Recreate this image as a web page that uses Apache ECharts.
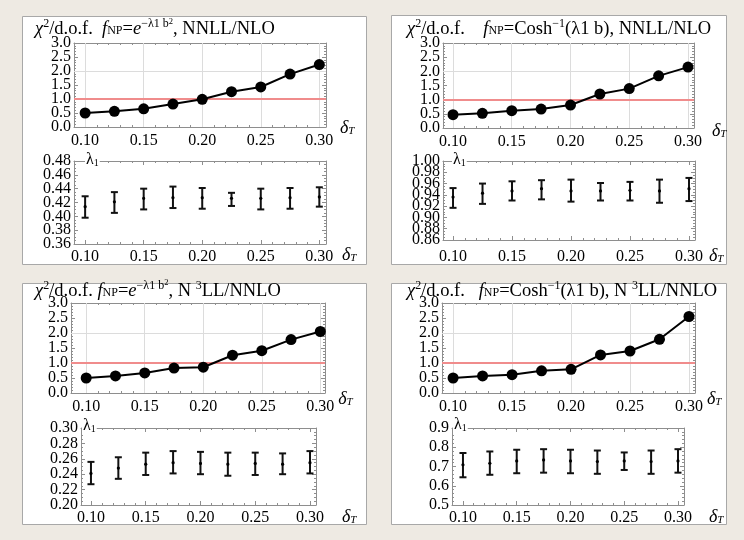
<!DOCTYPE html>
<html>
<head>
<meta charset="utf-8">
<script src="https://cdn.jsdelivr.net/npm/echarts@6/dist/echarts.min.js"></script>
<style>
  html, body { margin: 0; padding: 0; background: #eeeae3; }
  #chart { width: 744px; height: 540px; }
</style>
</head>
<body>
<div id="chart"></div>
<script>
// ---- data -------------------------------------------------------------
const deltaT = [0.10, 0.125, 0.15, 0.175, 0.20, 0.225, 0.25, 0.275, 0.30];

// chi^2 per degree of freedom
const chiNnllGauss = [0.50, 0.56, 0.65, 0.82, 0.99, 1.26, 1.43, 1.89, 2.23];
const chiNnllCosh  = [0.47, 0.52, 0.61, 0.67, 0.81, 1.20, 1.39, 1.84, 2.15];
const chiN3llGauss = [0.50, 0.57, 0.67, 0.83, 0.86, 1.26, 1.41, 1.78, 2.05];
const chiN3llCosh  = [0.50, 0.57, 0.61, 0.74, 0.79, 1.27, 1.40, 1.79, 2.55];

// fitted lambda_1: lower edge, central value, upper edge
const lamLoNnllGauss  = [0.398, 0.405, 0.410, 0.412, 0.411, 0.415, 0.410, 0.411, 0.414];
const lamMidNnllGauss = [0.414, 0.421, 0.426, 0.427, 0.427, 0.426, 0.426, 0.427, 0.428];
const lamHiNnllGauss  = [0.429, 0.435, 0.440, 0.443, 0.441, 0.434, 0.440, 0.441, 0.442];

const lamLoNnllCosh  = [0.917, 0.924, 0.930, 0.932, 0.928, 0.930, 0.930, 0.926, 0.929];
const lamMidNnllCosh = [0.936, 0.943, 0.947, 0.951, 0.947, 0.947, 0.948, 0.947, 0.951];
const lamHiNnllCosh  = [0.952, 0.960, 0.964, 0.966, 0.967, 0.961, 0.963, 0.967, 0.970];

const lamLoN3llGauss  = [0.227, 0.234, 0.239, 0.241, 0.240, 0.238, 0.239, 0.240, 0.241];
const lamMidN3llGauss = [0.241, 0.248, 0.253, 0.255, 0.254, 0.253, 0.254, 0.253, 0.255];
const lamHiN3llGauss  = [0.256, 0.262, 0.268, 0.270, 0.269, 0.268, 0.268, 0.267, 0.270];

const lamLoN3llCosh  = [0.644, 0.657, 0.665, 0.668, 0.665, 0.662, 0.682, 0.662, 0.668];
const lamMidN3llCosh = [0.709, 0.717, 0.729, 0.734, 0.729, 0.726, 0.729, 0.726, 0.729];
const lamHiN3llCosh  = [0.770, 0.778, 0.787, 0.790, 0.787, 0.783, 0.773, 0.783, 0.790];

// ---- tick labels ------------------------------------------------------
const xTickValues = [0.10, 0.15, 0.20, 0.25, 0.30];
const chiTickValues = [0, 0.5, 1.0, 1.5, 2.0, 2.5, 3.0];
const chiGridValues = [2.0];
const chiReference = 1.0;
const lamTicksNnllGauss = [0.36, 0.38, 0.40, 0.42, 0.44, 0.46, 0.48];
const lamTicksNnllCosh  = [0.86, 0.88, 0.90, 0.92, 0.94, 0.96, 0.98, 1.00];
const lamTicksN3llGauss = [0.20, 0.22, 0.24, 0.26, 0.28, 0.30];
const lamTicksN3llCosh  = [0.5, 0.6, 0.7, 0.8, 0.9];

// ---- titles -----------------------------------------------------------
const titleNnllGauss = '{i|χ}{sup|2}{n|/d.o.f.  }{i|f}{sub|NP}{n|=}{i|e}{sup|−λ1 b}{ssup|2}{n|, NNLL/NLO}';
const titleNnllCosh  = '{i|χ}{sup|2}{n|/d.o.f.    }{i|f}{sub|NP}{n|=Cosh}{sup|−1}{n|(λ1 b), NNLL/NLO}';
const titleN3llGauss = '{i|χ}{sup|2}{n|/d.o.f. }{i|f}{sub|NP}{n|=}{i|e}{sup|−λ1 b}{ssup|2}{n|, N }{sup|3}{n|LL/NNLO}';
const titleN3llCosh  = '{i|χ}{sup|2}{n|/d.o.f.   }{i|f}{sub|NP}{n|=Cosh}{sup|−1}{n|(λ1 b), N }{sup|3}{n|LL/NNLO}';

// ---- layout -----------------------------------------------------------
const FONT = '"Liberation Serif", "Times New Roman", serif';
const FRAME = '#8e8e8e';
const INK = '#000';

const panels = [
  {
    title: titleNnllGauss, titlePos: [35, 28], box: [22.5, 16.5, 344, 248],
    chi: chiNnllGauss, lam: [lamLoNnllGauss, lamMidNnllGauss, lamHiNnllGauss],
    lamTicks: lamTicksNnllGauss, lamDigits: 2, lamMinor: 0.005, lambdaPos: [85, 161],
    up:  { left: 74, top: 43, width: 252, height: 84, xMin: 0.0905, xMax: 0.3057, nameGap: 14, nameDy: 0, margin: 6 },
    low: { left: 74, top: 161, width: 252, height: 83, xMin: 0.0905, xMax: 0.3057, nameGap: 16, nameDy: 10, margin: 5 }
  },
  {
    title: titleNnllCosh, titlePos: [407, 28], box: [391.5, 15.5, 335, 249],
    chi: chiNnllCosh, lam: [lamLoNnllCosh, lamMidNnllCosh, lamHiNnllCosh],
    lamTicks: lamTicksNnllCosh, lamDigits: 2, lamMinor: 0.005, lambdaPos: [452, 161],
    up:  { left: 443, top: 43, width: 251, height: 85, xMin: 0.0915, xMax: 0.3051, nameGap: 18, nameDy: 2, margin: 6 },
    low: { left: 443, top: 161, width: 252, height: 79, xMin: 0.0915, xMax: 0.3051, nameGap: 14, nameDy: 15, margin: 9 }
  },
  {
    title: titleN3llGauss, titlePos: [35, 289.5], box: [22.5, 283.5, 344, 241],
    chi: chiN3llGauss, lam: [lamLoN3llGauss, lamMidN3llGauss, lamHiN3llGauss],
    lamTicks: lamTicksN3llGauss, lamDigits: 2, lamMinor: 0.005, lambdaPos: [82, 427],
    up:  { left: 71, top: 303, width: 254, height: 90, xMin: 0.087, xMax: 0.304, nameGap: 8, nameDy: 5, margin: 6 },
    low: { left: 81, top: 428, width: 235, height: 77, xMin: 0.0909, xMax: 0.3055, nameGap: 26, nameDy: 11, margin: 5 }
  },
  {
    title: titleN3llCosh, titlePos: [407, 289.5], box: [391.5, 283.5, 335, 241],
    chi: chiN3llCosh, lam: [lamLoN3llCosh, lamMidN3llCosh, lamHiN3llCosh],
    lamTicks: lamTicksN3llCosh, lamDigits: 1, lamMinor: 0.02, lambdaPos: [453, 426],
    up:  { left: 442, top: 303, width: 253, height: 90, xMin: 0.0906, xMax: 0.3051, nameGap: 10, nameDy: 5, margin: 6 },
    low: { left: 452, top: 428, width: 232, height: 77, xMin: 0.0898, xMax: 0.3056, nameGap: 25, nameDy: 11, margin: 5 }
  }
];

// minor tick positions between the labelled ticks
function minorTicks(from, to, step, majors) {
  const out = [];
  const n = Math.round((to - from) / step);
  for (let k = 0; k <= n; k++) {
    const v = +(from + k * step).toFixed(6);
    if (!majors.some(m => Math.abs(m - v) < step / 10)) out.push(v);
  }
  return out;
}

const titleRich = {
  n:    { fontFamily: FONT, fontSize: 18.5, lineHeight: 22, verticalAlign: 'bottom', color: INK },
  i:    { fontFamily: FONT, fontSize: 18.5, lineHeight: 22, verticalAlign: 'bottom', fontStyle: 'italic', color: INK },
  sup:  { fontFamily: FONT, fontSize: 12, lineHeight: 12, verticalAlign: 'top', padding: [1, 0, 0, 0], color: INK },
  ssup: { fontFamily: FONT, fontSize: 8.5, lineHeight: 8, verticalAlign: 'top', color: INK },
  sub:  { fontFamily: FONT, fontSize: 12, lineHeight: 12, verticalAlign: 'bottom', padding: [0, 0, 2, 0], color: INK }
};

const deltaName = '{d|δ}{t|T}';
const deltaRich = {
  d: { fontFamily: FONT, fontSize: 18, fontStyle: 'italic', lineHeight: 20, verticalAlign: 'bottom', color: INK },
  t: { fontFamily: FONT, fontSize: 11, fontStyle: 'italic', lineHeight: 10, verticalAlign: 'bottom', color: INK }
};

const option = {
  animation: false,
  backgroundColor: '#eeeae3',
  grid: [], xAxis: [], yAxis: [], series: [], graphic: []
};

function addGrid(g, xMajors, yMajors, yMin, yMax, yDigits, yMinorStep) {
  const gi = option.grid.length;
  option.grid.push({ left: g.left, top: g.top, width: g.width, height: g.height, show: false });

  const xMinors = minorTicks(0.10, 0.30, 0.01, xMajors);
  const yMinors = minorTicks(yMin, yMax, yMinorStep, yMajors);
  const tickStyle = { color: FRAME, width: 1 };
  const base = { gridIndex: gi, type: 'value', splitLine: { show: false }, axisPointer: { show: false } };

  const xi = option.xAxis.length;
  option.xAxis.push(
    Object.assign({}, base, {
      position: 'bottom', min: g.xMin, max: g.xMax,
      axisLine: { onZero: false, lineStyle: { color: FRAME, width: 1 } },
      axisTick: { inside: true, length: 4, customValues: xMajors, lineStyle: tickStyle },
      axisLabel: { customValues: xMajors, margin: g.margin, fontFamily: FONT, fontSize: 16, color: INK,
                   showMinLabel: true, showMaxLabel: true,
                   formatter: v => v.toFixed(2) },
      name: deltaName, nameLocation: 'end', nameGap: g.nameGap,
      nameTextStyle: { rich: deltaRich, align: 'left', verticalAlign: 'middle', padding: [g.nameDy * 2, 0, 0, 0] }
    }),
    Object.assign({}, base, {
      position: 'top', min: g.xMin, max: g.xMax,
      axisLine: { onZero: false, lineStyle: { color: FRAME, width: 1 } },
      axisTick: { inside: true, length: 4, customValues: xMajors, lineStyle: tickStyle },
      axisLabel: { show: false }
    }),
    Object.assign({}, base, {
      position: 'bottom', min: g.xMin, max: g.xMax,
      axisLine: { show: false, onZero: false },
      axisTick: { inside: true, length: 2, customValues: xMinors, lineStyle: tickStyle },
      axisLabel: { show: false }
    }),
    Object.assign({}, base, {
      position: 'top', min: g.xMin, max: g.xMax,
      axisLine: { show: false, onZero: false },
      axisTick: { inside: true, length: 2, customValues: xMinors, lineStyle: tickStyle },
      axisLabel: { show: false }
    })
  );

  // y labels are split over two coincident left axes (alternate ticks),
  // so tightly packed labels are all kept
  const evenLabels = yMajors.filter((v, k) => k % 2 === 0);
  const oddLabels = yMajors.filter((v, k) => k % 2 === 1);
  const yLabel = vals => ({
    customValues: vals, margin: 3, fontFamily: FONT, fontSize: 16, color: INK,
    showMinLabel: true, showMaxLabel: true, formatter: v => v.toFixed(yDigits)
  });

  const yi = option.yAxis.length;
  option.yAxis.push(
    Object.assign({}, base, {
      position: 'left', min: yMin, max: yMax,
      axisLine: { onZero: false, lineStyle: { color: FRAME, width: 1 } },
      axisTick: { inside: true, length: 4, customValues: yMajors, lineStyle: tickStyle },
      axisLabel: yLabel(evenLabels)
    }),
    Object.assign({}, base, {
      position: 'left', min: yMin, max: yMax,
      axisLine: { show: false, onZero: false },
      axisTick: { show: false },
      axisLabel: yLabel(oddLabels)
    }),
    Object.assign({}, base, {
      position: 'right', min: yMin, max: yMax,
      axisLine: { onZero: false, lineStyle: { color: FRAME, width: 1 } },
      axisTick: { inside: true, length: 4, customValues: yMajors, lineStyle: tickStyle },
      axisLabel: { show: false }
    }),
    Object.assign({}, base, {
      position: 'left', min: yMin, max: yMax,
      axisLine: { show: false, onZero: false },
      axisTick: { inside: true, length: 2, customValues: yMinors, lineStyle: tickStyle },
      axisLabel: { show: false }
    }),
    Object.assign({}, base, {
      position: 'right', min: yMin, max: yMax,
      axisLine: { show: false, onZero: false },
      axisTick: { inside: true, length: 2, customValues: yMinors, lineStyle: tickStyle },
      axisLabel: { show: false }
    })
  );
  return { xi, yi };
}

// vertical error bar with caps and a central dot
function renderErrorBar(params, api) {
  const x = api.value(0);
  const pLo = api.coord([x, api.value(1)]);
  const pMid = api.coord([x, api.value(2)]);
  const pHi = api.coord([x, api.value(3)]);
  const cap = 3.5;
  const st = { stroke: '#111', lineWidth: 2 };
  return {
    type: 'group',
    children: [
      { type: 'line', shape: { x1: pLo[0], y1: pLo[1], x2: pHi[0], y2: pHi[1] }, style: st },
      { type: 'line', shape: { x1: pLo[0] - cap, y1: pLo[1], x2: pLo[0] + cap, y2: pLo[1] }, style: st },
      { type: 'line', shape: { x1: pHi[0] - cap, y1: pHi[1], x2: pHi[0] + cap, y2: pHi[1] }, style: st },
      { type: 'circle', shape: { cx: pMid[0], cy: pMid[1], r: 1.6 }, style: { fill: '#000' } }
    ]
  };
}

panels.forEach(p => {
  // panel frame
  option.graphic.push({
    type: 'rect', z: -10,
    shape: { x: p.box[0], y: p.box[1], width: p.box[2], height: p.box[3] },
    style: { fill: '#fff', stroke: '#a8a8a8', lineWidth: 1 }
  });
  option.graphic.push({
    type: 'text', z: 50, x: p.titlePos[0], y: p.titlePos[1],
    style: { text: p.title, rich: titleRich, align: 'left', verticalAlign: 'middle' }
  });
  option.graphic.push({
    type: 'text', z: 50, x: p.lambdaPos[0], y: p.lambdaPos[1],
    style: {
      text: '{l|λ}{s|1}', align: 'left', verticalAlign: 'middle', backgroundColor: '#fff', padding: [0, 1, 0, 1],
      rich: {
        l: { fontFamily: FONT, fontSize: 16, lineHeight: 14, verticalAlign: 'bottom', color: INK },
        s: { fontFamily: FONT, fontSize: 10, lineHeight: 8, verticalAlign: 'bottom', color: INK }
      }
    }
  });

  // chi^2/d.o.f. panel
  const a = addGrid(p.up, xTickValues, chiTickValues, 0, 3, 1, 0.1);
  option.series.push({
    type: 'line', xAxisIndex: a.xi, yAxisIndex: a.yi, data: [], z: 1, silent: true,
    markLine: {
      silent: true, symbol: ['none', 'none'], label: { show: false }, animation: false,
      lineStyle: { color: '#dcdcdc', width: 1, type: 'solid' },
      data: xTickValues.map(v => ({ xAxis: v }))
        .concat(chiGridValues.map(v => ({ yAxis: v })))
        .concat([{ yAxis: chiReference, lineStyle: { color: '#f08c8c', width: 2, type: 'solid' } }])
    }
  });
  option.series.push({
    type: 'line', xAxisIndex: a.xi, yAxisIndex: a.yi, z: 5,
    data: deltaT.map((x, i) => [x, p.chi[i]]),
    symbol: 'circle', symbolSize: 11, showSymbol: true,
    itemStyle: { color: INK }, lineStyle: { color: INK, width: 2 }
  });

  // lambda_1 panel
  const lt = p.lamTicks;
  const b = addGrid(p.low, xTickValues, lt, lt[0], lt[lt.length - 1], p.lamDigits, p.lamMinor);
  option.series.push({
    type: 'custom', xAxisIndex: b.xi, yAxisIndex: b.yi, z: 5,
    renderItem: renderErrorBar,
    encode: { x: 0, y: [1, 2, 3] },
    data: deltaT.map((x, i) => [x, p.lam[0][i], p.lam[1][i], p.lam[2][i]])
  });
});

const chart = echarts.init(document.getElementById('chart'), null, { renderer: 'canvas' });
chart.setOption(option);
</script>
</body>
</html>
